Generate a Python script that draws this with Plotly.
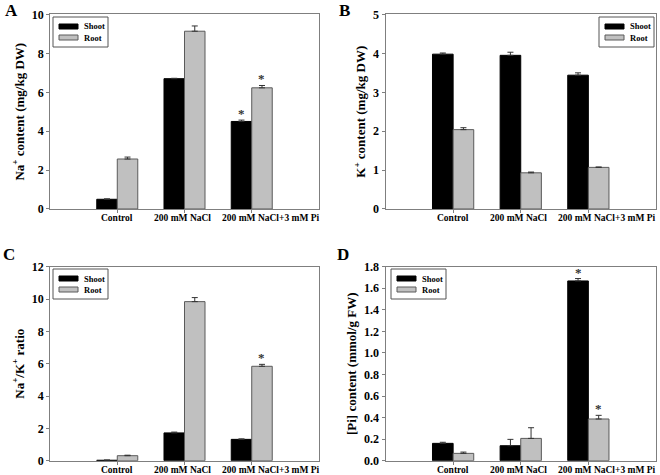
import plotly.graph_objects as go

# ---------------- data ----------------
categories = ["Control", "200 mM NaCl", "200 mM NaCl+3 mM Pi"]
cat_pos = [1, 2, 3]
series_names = ["Shoot", "Root"]

# Panel A: Na+ content (mg/kg DW)
a_shoot = [0.50, 6.70, 4.50]
a_shoot_err = [0.02, 0.02, 0.07]
a_root = [2.57, 9.14, 6.23]
a_root_err = [0.10, 0.27, 0.12]
a_stars = [("Shoot", 2), ("Root", 2)]

# Panel B: K+ content (mg/kg DW)
b_shoot = [3.98, 3.95, 3.44]
b_shoot_err = [0.03, 0.08, 0.06]
b_root = [2.04, 0.93, 1.07]
b_root_err = [0.05, 0.02, 0.01]
b_stars = []

# Panel C: Na+/K+ ratio
c_shoot = [0.03, 1.72, 1.32]
c_shoot_err = [0.01, 0.05, 0.03]
c_root = [0.31, 9.84, 5.84]
c_root_err = [0.03, 0.25, 0.12]
c_stars = [("Root", 2)]

# Panel D: [Pi] content (mmol/g FW)
d_shoot = [0.161, 0.139, 1.668]
d_shoot_err = [0.010, 0.059, 0.022]
d_root = [0.068, 0.207, 0.387]
d_root_err = [0.012, 0.099, 0.034]
d_stars = [("Shoot", 2), ("Root", 2)]

y_titles = ["Na<sup>+</sup> content (mg/kg DW)", "K<sup>+</sup> content (mg/kg DW)",
            "Na<sup>+</sup>/K<sup>+</sup> ratio", "[Pi] content (mmol/g FW)"]
y_ranges = [[0, 10], [0, 5], [0, 12], [0, 1.8]]
y_dticks = [2, 1, 2, 0.2]
y_formats = ["d", "d", "d", ".1f"]
panel_letters = ["A", "B", "C", "D"]

# ---------------- style ----------------
W, H = 660, 475
FONT = "Liberation Serif, Times New Roman, serif"
SHOOT_COLOR = "#000000"
ROOT_COLOR = "#c0c0c0"
ROOT_LINE = "#5a5a5a"
AXIS_COLOR = "#7f7f7f"
BARGAP = 0.39
series_fill = [SHOOT_COLOR, ROOT_COLOR]
series_line = ["#000000", ROOT_LINE]

x_domains = [[0.0758, 0.4833], [0.5841, 0.9939], [0.0758, 0.4833], [0.5841, 0.9939]]
y_domains = [[0.560, 0.9695], [0.560, 0.9695], [0.0301, 0.4385], [0.0301, 0.4385]]

panels = [
    (a_shoot, a_shoot_err, a_root, a_root_err, a_stars),
    (b_shoot, b_shoot_err, b_root, b_root_err, b_stars),
    (c_shoot, c_shoot_err, c_root, c_root_err, c_stars),
    (d_shoot, d_shoot_err, d_root, d_root_err, d_stars),
]

# legend boxes: top-left corner in pixels (x, y), size 55 x 30 px
legend_boxes = [(53, 17), (599, 17), (53, 269), (391, 269)]
LEG_W, LEG_H = 55, 30


def px(x):
    return x / W


def py(y):
    return 1 - y / H


fig = go.Figure()
annotations = []
shapes = []
layout_axes = {}

for i, (shoot, shoot_err, root, root_err, stars) in enumerate(panels):
    n = "" if i == 0 else str(i + 1)
    xa, ya = "x" + n, "y" + n
    fig.add_trace(go.Bar(
        x=cat_pos, y=shoot, name=series_names[0], xaxis=xa, yaxis=ya, showlegend=False,
        marker=dict(color=SHOOT_COLOR, line=dict(color="#000000", width=1)),
        error_y=dict(type="data", symmetric=False, array=shoot_err, arrayminus=[0] * len(shoot),
                     color="#333333", thickness=1, width=3),
    ))
    fig.add_trace(go.Bar(
        x=cat_pos, y=root, name=series_names[1], xaxis=xa, yaxis=ya, showlegend=False,
        marker=dict(color=ROOT_COLOR, line=dict(color=ROOT_LINE, width=1)),
        error_y=dict(type="data", symmetric=False, array=root_err, arrayminus=[0] * len(root),
                     color="#333333", thickness=1, width=3),
    ))

    layout_axes["xaxis" + n] = dict(
        domain=x_domains[i], anchor=ya, range=[0, 4], automargin=False,
        tickmode="array", tickvals=cat_pos, showticklabels=False,
        ticks="outside", ticklen=3, tickcolor=AXIS_COLOR,
        showline=True, linecolor=AXIS_COLOR, linewidth=1, mirror=True,
        showgrid=False, zeroline=False,
    )
    layout_axes["yaxis" + n] = dict(
        domain=y_domains[i], anchor=xa, range=y_ranges[i], automargin=False,
        tick0=0, dtick=y_dticks[i], tickformat=y_formats[i],
        ticks="outside", ticklen=3, tickcolor=AXIS_COLOR,
        showline=True, linecolor=AXIS_COLOR, linewidth=1, mirror=True,
        showgrid=False, zeroline=False,
        tickfont=dict(family=FONT, size=12, color="black", weight="bold"),
        title=dict(text=y_titles[i], standoff=4,
                   font=dict(family=FONT, size=13, color="black", weight="bold")),
    )

    # category labels under the axis (last one shifted right to avoid overlap)
    for k, (cx, label) in enumerate(zip(cat_pos, categories)):
        last = k == len(categories) - 1
        annotations.append(dict(
            x=cx, y=y_ranges[i][0], xref=xa, yref=ya, text=label, showarrow=False,
            xanchor="left" if last else "center", yanchor="top",
            xshift=-32 if last else (-2 if k == 1 else 0), yshift=-2,
            font=dict(family=FONT, size=9.5, color="black", weight="bold"),
        ))

    # significance stars above error bars
    half = (1 - BARGAP) / 4
    for series, idx in stars:
        if series == "Shoot":
            xv, yv = cat_pos[idx] - half, shoot[idx] + shoot_err[idx]
        else:
            xv, yv = cat_pos[idx] + half, root[idx] + root_err[idx]
        annotations.append(dict(
            x=xv, y=yv, xref=xa, yref=ya, text="*", showarrow=False,
            yanchor="bottom", xanchor="center", yshift=-3,
            font=dict(family=FONT, size=13, color="#333333", weight="bold"),
        ))

    # legend box
    bx, by = legend_boxes[i]
    shapes.append(dict(type="rect", xref="paper", yref="paper",
                       x0=px(bx), x1=px(bx + LEG_W), y0=py(by), y1=py(by + LEG_H),
                       line=dict(color="#555555", width=1), fillcolor="white", layer="above"))
    for s, name in enumerate(series_names):
        cy = by + 9.5 + s * 11
        shapes.append(dict(type="rect", xref="paper", yref="paper",
                           x0=px(bx + 6), x1=px(bx + 25), y0=py(cy - 2.5), y1=py(cy + 2.5),
                           line=dict(color=series_line[s], width=1), fillcolor=series_fill[s],
                           layer="above"))
        annotations.append(dict(
            x=px(bx + 29), y=py(cy), xref="paper", yref="paper", text=name, showarrow=False,
            xanchor="left", yanchor="middle",
            font=dict(family=FONT, size=8.5, color="black", weight="bold"),
        ))

# panel letters
letter_pos = [(0.017, 0.978), (0.522, 0.978), (0.014, 0.465), (0.520, 0.465)]
for letter, (lx, ly) in zip(panel_letters, letter_pos):
    annotations.append(dict(
        x=lx, y=ly, xref="paper", yref="paper", text=letter, showarrow=False,
        xanchor="center", yanchor="middle",
        font=dict(family=FONT, size=17, color="black", weight="bold"),
    ))

fig.update_layout(
    width=W, height=H,
    margin=dict(l=0, r=0, t=0, b=0, autoexpand=False),
    paper_bgcolor="white", plot_bgcolor="white",
    barmode="group", bargap=BARGAP, bargroupgap=0,
    font=dict(family=FONT, color="black"),
    showlegend=False,
    annotations=annotations,
    shapes=shapes,
    **layout_axes,
)

fig.write_html("out.html", config={"displayModeBar": False},
               post_script="document.body.style.margin='0';")
